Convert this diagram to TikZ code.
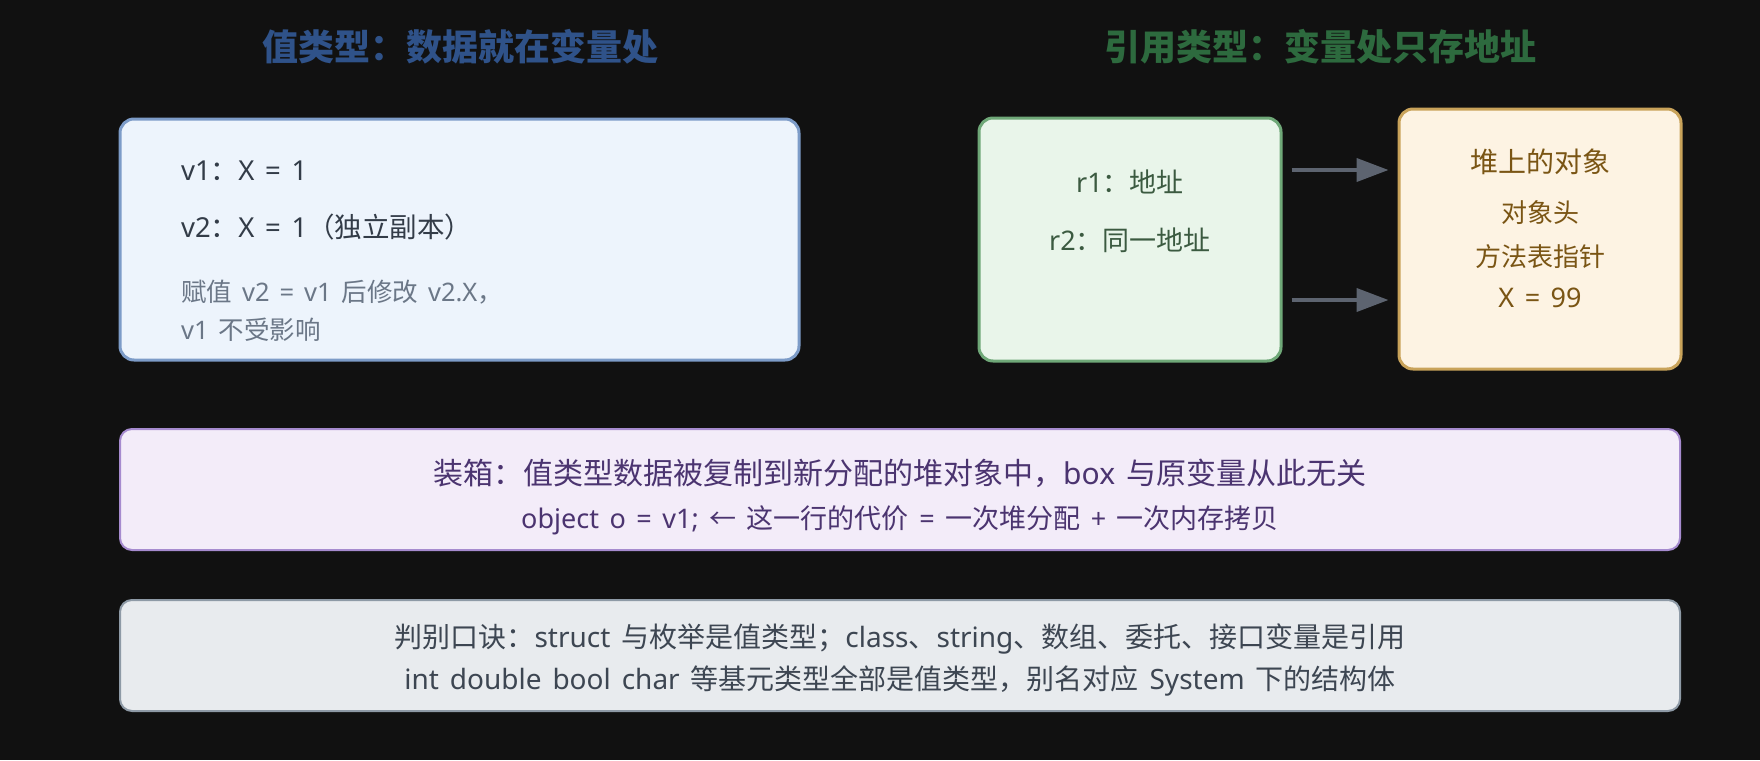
\documentclass[tikz,border=0pt]{standalone}
\usepackage{fontspec}
\setmainfont{Noto Sans}[WordSpace=1.5]
\newfontfamily\cj{Noto Sans CJK SC}
\usetikzlibrary{arrows.meta}
\definecolor{bg}{HTML}{111111}
\definecolor{tblue}{HTML}{2F5289}
\definecolor{tgreen}{HTML}{2D6A3E}
\definecolor{vfill}{HTML}{EDF4FC}
\definecolor{vdraw}{HTML}{7D9CC8}
\definecolor{vtext}{HTML}{333C48}
\definecolor{vnote}{HTML}{6B7787}
\definecolor{gfill}{HTML}{E9F5EA}
\definecolor{gdraw}{HTML}{6FA878}
\definecolor{gtext}{HTML}{3B5A40}
\definecolor{hfill}{HTML}{FDF3E3}
\definecolor{hdraw}{HTML}{C9A35A}
\definecolor{htext}{HTML}{7A5514}
\definecolor{pfill}{HTML}{F3ECF9}
\definecolor{pdraw}{HTML}{A68BCF}
\definecolor{ptext}{HTML}{4B3470}
\definecolor{kfill}{HTML}{E8EBEE}
\definecolor{kdraw}{HTML}{8E9AA6}
\definecolor{ktext}{HTML}{3D4652}
\definecolor{arrc}{HTML}{5D6470}
\newcommand{\fs}[1]{\fontsize{#1pt}{#1pt}\selectfont}
\tikzset{
  panel/.style={draw, line width=3pt, rounded corners=14pt, inner sep=0pt},
  txt/.style={inner sep=0pt, font=\fs{27}},
  ttl/.style={inner sep=0pt, font=\fs{36}\cj\bfseries},
  arr/.style={draw=arrc, line width=4pt, -{Triangle[length=32pt,width=23pt]}, shorten <=9pt, shorten >=9pt}
}
\begin{document}
\begin{tikzpicture}[x=1pt,y=-1pt]
\fill[bg] (0,0) rectangle (1760,760);
\useasboundingbox (0,0) rectangle (1760,760);

% titles
\node[ttl, text=tblue] (t1) at (460,47) {值类型：数据就在变量处};
\node[ttl, text=tgreen] (t2) at (1320,47) {引用类型：变量处只存地址};

% value box
\node[panel, fill=vfill, draw=vdraw, minimum width=679pt, minimum height=241pt] (vbox) at (459.5,239.5) {};
\node[txt, text=vtext, anchor=west, font=\fs{27.5}] (v1) at (181,171) {v1{\cj ：}X = 1};
\node[txt, text=vtext, anchor=west, font=\fs{27.5}] (v2) at (181,227) {v2{\cj ：}X = 1{\cj （独立副本）}};
\node[txt, text=vnote, anchor=west, font=\fs{25.5}] (n1) at (181,292) {{\cj 赋值} v2 = v1 {\cj 后修改} v2.X{\cj ，}};
\node[txt, text=vnote, anchor=west, font=\fs{25.5}] (n2) at (181,330) {v1 {\cj 不受影响}};

% reference box
\node[panel, fill=gfill, draw=gdraw, minimum width=302pt, minimum height=243pt] (gbox) at (1130,239.5) {};
\node[txt, text=gtext] (r1) at (1130,182) {r1{\cj ：地址}};
\node[txt, text=gtext] (r2) at (1130,240) {r2{\cj ：同一地址}};

% heap box
\node[panel, fill=hfill, draw=hdraw, minimum width=282pt, minimum height=260pt] (hbox) at (1540,239) {};
\node[txt, text=htext, font=\fs{28}\cj] (h1) at (1540,162) {堆上的对象};
\node[txt, text=htext, font=\fs{26}\cj] (h2) at (1540,213) {对象头};
\node[txt, text=htext, font=\fs{26}\cj] (h3) at (1540,257) {方法表指针};
\node[txt, text=htext, font=\fs{27}] (h4) at (1540,298) {X = 99};

% arrows
\draw[arr] ([yshift=69.5pt]gbox.east) -- ([yshift=69pt]hbox.west);
\draw[arr] ([yshift=-60.5pt]gbox.east) -- ([yshift=-61pt]hbox.west);

% boxing box
\node[panel, line width=2pt, rounded corners=12pt, fill=pfill, draw=pdraw, minimum width=1560pt, minimum height=121pt] (pbox) at (900,489.5) {};
\node[txt, text=ptext, font=\fs{30}] (p1) at (900,473) {{\cj 装箱：值类型数据被复制到新分配的堆对象中，}box {\cj 与原变量从此无关}};
\node[txt, text=ptext, font=\fs{27}] (p2) at (900,520) {object o = v1; {\cj ←} {\cj 这一行的代价} = {\cj 一次堆分配} + {\cj 一次内存拷贝}};

% rule box
\node[panel, line width=2pt, rounded corners=12pt, fill=kfill, draw=kdraw, minimum width=1560pt, minimum height=111pt] (kbox) at (900,655.5) {};
\node[txt, text=ktext, font=\fs{28}] (k1) at (900,639) {{\cj 判别口诀：}struct {\cj 与枚举是值类型；}class{\cj 、}string{\cj 、数组、委托、接口变量是引用}};
\node[txt, text=ktext, font=\fs{28}] (k2) at (900,681) {int double bool char {\cj 等基元类型全部是值类型，别名对应} System {\cj 下的结构体}};
\end{tikzpicture}
\end{document}
